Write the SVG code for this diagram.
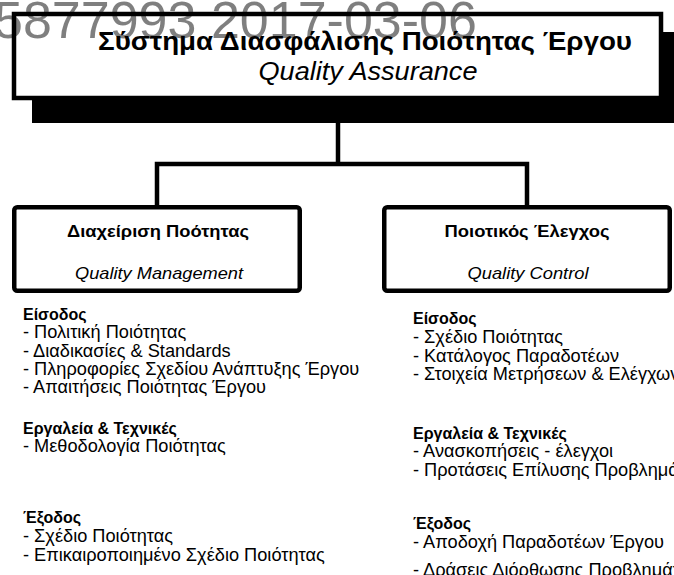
<svg xmlns="http://www.w3.org/2000/svg" width="674" height="575" viewBox="0 0 674 575">
<style>
.box{fill:#fff;stroke:#000;stroke-width:4.5}
.conn{fill:none;stroke:#000;stroke-width:4.5}
.t{font-family:"Liberation Sans",Arial,sans-serif;fill:#000}
.b{font-weight:bold}
.i{font-style:italic}
.wm{font-family:"Liberation Sans",Arial,sans-serif;font-size:52px;fill:#000;fill-opacity:0.5}
.lst{font-family:"Liberation Sans",Arial,sans-serif;font-size:18.2px;fill:#000}
.h{font-weight:bold;font-size:16px}
</style>
<rect width="674" height="575" fill="#fff"/>
<g id="root">
<rect x="32" y="32" width="660" height="91" fill="#000"/>
<rect class="box" x="14" y="14" width="647" height="84" stroke-width="4"/>
<text class="t b" x="365" y="50" font-size="25" text-anchor="middle" textLength="534" lengthAdjust="spacingAndGlyphs">Σύστημα Διασφάλισης Ποιότητας Έργου</text>
<text class="t i" x="368" y="80" font-size="25" text-anchor="middle" textLength="219" lengthAdjust="spacingAndGlyphs">Quality Assurance</text>
</g>
<g id="connectors">
<path class="conn" d="M338 121 V164"/>
<path class="conn" d="M157 207 V164 H527 V207"/>
</g>
<g id="qm">
<rect class="box" x="14.25" y="207.25" width="285.5" height="83.5" rx="3"/>
<text class="t b" x="158" y="237" font-size="17" text-anchor="middle" textLength="182" lengthAdjust="spacingAndGlyphs">Διαχείριση Ποότητας</text>
<text class="t i" x="159" y="279" font-size="17" text-anchor="middle" textLength="168" lengthAdjust="spacingAndGlyphs">Quality Management</text>
</g>
<g id="qc">
<rect class="box" x="384.25" y="207.25" width="285.5" height="83.5" rx="3"/>
<text class="t b" x="527" y="237" font-size="17" text-anchor="middle" textLength="165" lengthAdjust="spacingAndGlyphs">Ποιοτικός Έλεγχος</text>
<text class="t i" x="528" y="279" font-size="17" text-anchor="middle" textLength="121" lengthAdjust="spacingAndGlyphs">Quality Control</text>
</g>
<g id="qm-list" class="lst">
<text x="23" y="320" class="h">Είσοδος</text>
<text x="23" y="338">- Πολιτική Ποιότητας</text>
<text x="23" y="357">- Διαδικασίες &amp; Standards</text>
<text x="23" y="375">- Πληροφορίες Σχεδίου Ανάπτυξης Έργου</text>
<text x="23" y="393">- Απαιτήσεις Ποιότητας Έργου</text>
<text x="23" y="434" class="h">Εργαλεία &amp; Τεχνικές</text>
<text x="23" y="452">- Μεθοδολογία Ποιότητας</text>
<text x="23" y="523" class="h">Έξοδος</text>
<text x="23" y="542">- Σχέδιο Ποιότητας</text>
<text x="23" y="561">- Επικαιροποιημένο Σχέδιο Ποιότητας</text>
</g>
<g id="qc-list" class="lst">
<text x="413" y="324" class="h">Είσοδος</text>
<text x="413" y="343">- Σχέδιο Ποιότητας</text>
<text x="413" y="362">- Κατάλογος Παραδοτέων</text>
<text x="413" y="380">- Στοιχεία Μετρήσεων &amp; Ελέγχων</text>
<text x="413" y="439" class="h">Εργαλεία &amp; Τεχνικές</text>
<text x="413" y="457">- Ανασκοπήσεις - έλεγχοι</text>
<text x="413" y="476">- Προτάσεις Επίλυσης Προβλημάτων</text>
<text x="413" y="529" class="h">Έξοδος</text>
<text x="413" y="548">- Αποδοχή Παραδοτέων Έργου</text>
<text x="413" y="576">- Δράσεις Διόρθωσης Προβλημάτων</text>
</g>
<text class="wm" x="-6" y="38">5877993 2017-03-06</text>
</svg>
